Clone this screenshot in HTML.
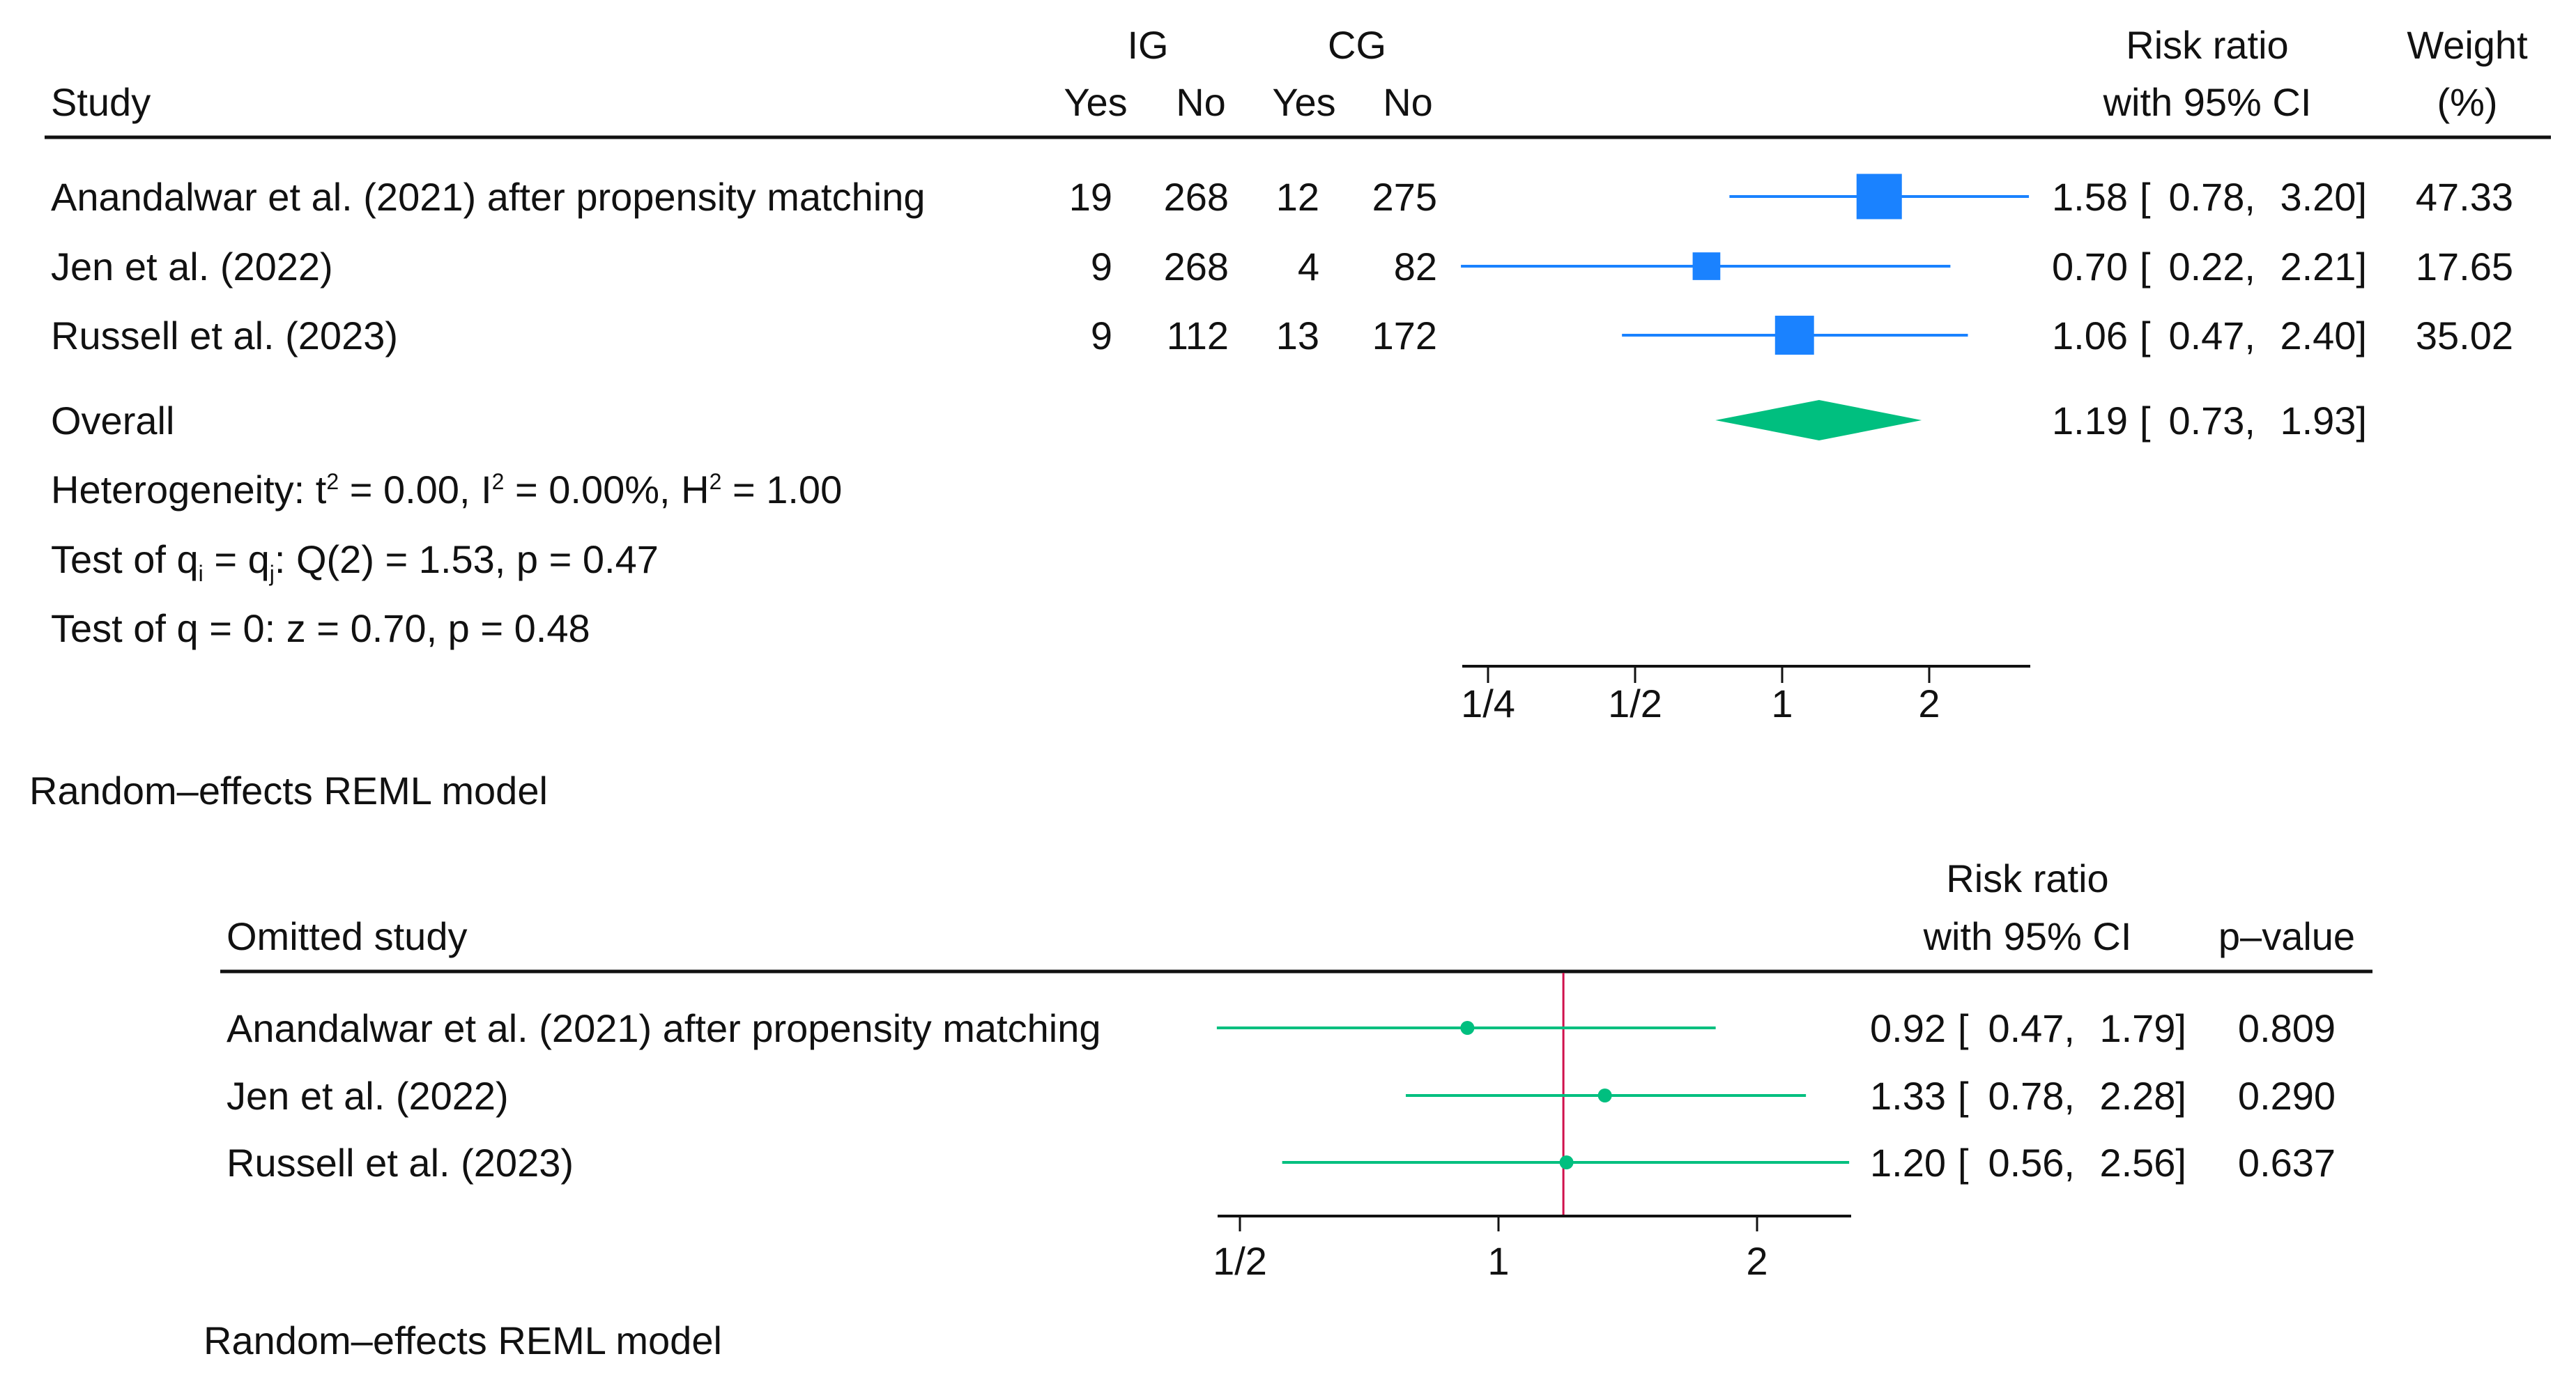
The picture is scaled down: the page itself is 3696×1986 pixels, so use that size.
<!DOCTYPE html>
<html><head><meta charset="utf-8"><style>
html,body{margin:0;padding:0;background:#fff;}
svg{display:block;}
text{font-family:"Liberation Sans",sans-serif;font-size:56px;fill:#111;}
</style></head><body>
<svg id="chart" xmlns="http://www.w3.org/2000/svg" width="3696" height="1986" viewBox="0 0 3696 1986"></svg>
<script>
// ---- data: top forest plot ----
const studies = ["Anandalwar et al. (2021) after propensity matching","Jen et al. (2022)","Russell et al. (2023)"];
const igYes = [19, 9, 9];
const igNo = [268, 268, 112];
const cgYes = [12, 4, 13];
const cgNo = [275, 82, 172];
const rr = [1.58, 0.70, 1.06];
const rrLo = [0.78, 0.22, 0.47];
const rrHi = [3.20, 2.21, 2.40];
const weights = [47.33, 17.65, 35.02];
const overall = [1.19, 0.73, 1.93];
const topTicks = [0.25, 0.5, 1, 2];
const topTickLabels = ["1/4", "1/2", "1", "2"];
// ---- data: leave-one-out plot ----
const omitted = ["Anandalwar et al. (2021) after propensity matching","Jen et al. (2022)","Russell et al. (2023)"];
const looRR = [0.92, 1.33, 1.20];
const looLo = [0.47, 0.78, 0.56];
const looHi = [1.79, 2.28, 2.56];
const looP = ["0.809", "0.290", "0.637"];
const looRef = [1.19];
const botTicks = [0.5, 1, 2];
const botTickLabels = ["1/2", "1", "2"];

const NS = "http://www.w3.org/2000/svg";
const svg = document.getElementById("chart");
function mk(tag, attrs, txt){
  const e = document.createElementNS(NS, tag);
  for (const k in attrs) e.setAttribute(k, attrs[k]);
  if (txt !== undefined) e.textContent = txt;
  svg.appendChild(e);
  return e;
}
function txt(x, y, s, anchor){
  return mk("text", {x:x, y:y, "text-anchor":anchor||"start"}, s);
}
function fmt(v){ return v.toFixed(2); }
const xTop = v => 2557 + 211*Math.log2(v);
const xBot = v => 2150 + 371*Math.log2(v);
const BL = 20;
const BLUE = "#1a82ff", GREEN = "#00bf7f";

let e;
e = txt(1647, 64+BL, "IG", "middle");


e = txt(1947, 64+BL, "CG", "middle");


e = txt(73, 146+BL, "Study");


[["Yes",1572],["No",1723],["Yes",1871],["No",2020]].forEach(p=>{
  const t = txt(p[1], 146+BL, p[0], "middle");
  
  
});
e = txt(3167, 64+BL, "Risk ratio", "middle");


e = txt(3167, 146+BL, "with 95% CI", "middle");


e = txt(3540, 64+BL, "Weight", "middle");


e = txt(3540, 146+BL, "(%)", "middle");


e = mk("line", {x1:64, x2:3660, y1:197, y2:197, stroke:"#111", "stroke-width":5});



const rowY = [282, 382, 481];
studies.forEach((s, i) => {
  const y = rowY[i];
  let t = txt(73, y+BL, s);
  
  
  [[igYes,1596],[igNo,1763],[cgYes,1893],[cgNo,2062]].forEach(c=>{
    const n = txt(c[1], y+BL, String(c[0][i]), "end");
    
    
  });
  const ln = mk("line", {x1:xTop(rrLo[i]), x2:xTop(rrHi[i]), y1:y, y2:y, stroke:BLUE, "stroke-width":4});
  
  
  const side = 9.45*Math.sqrt(weights[i]);
  const sq = mk("rect", {x:xTop(rr[i])-side/2, y:y-side/2, width:side, height:side, fill:BLUE});
  
  
  let a = txt(3053, y+BL, fmt(rr[i]), "end");
  
  
  a = txt(3070, y+BL, "[");
  
  
  a = txt(3236, y+BL, fmt(rrLo[i])+",", "end");
  
  
  a = txt(3396, y+BL, fmt(rrHi[i])+"]", "end");
  
  
  a = txt(3606, y+BL, fmt(weights[i]), "end");
  
  
});

const oy = 603;
e = txt(73, oy+BL, "Overall");


e = mk("polygon", {points:`${xTop(overall[1])},${oy} ${xTop(overall[0])},${oy-29} ${xTop(overall[2])},${oy} ${xTop(overall[0])},${oy+29}`, fill:GREEN});


e = txt(3053, oy+BL, fmt(overall[0]), "end");


e = txt(3070, oy+BL, "[");


e = txt(3236, oy+BL, fmt(overall[1])+",", "end");


e = txt(3396, oy+BL, fmt(overall[2])+"]", "end");



function richText(y, parts, name){
  const t = mk("text", {x:73, y:y+BL});
  
  
  parts.forEach(p=>{
    const ts = document.createElementNS(NS, "tspan");
    ts.textContent = p[0];
    if (p[1]==="sup"){ ts.setAttribute("baseline-shift","20"); ts.setAttribute("font-size","32"); }
    if (p[1]==="sub"){ ts.setAttribute("baseline-shift","-12"); ts.setAttribute("font-size","32"); }
    t.appendChild(ts);
  });
}
richText(702, [["Heterogeneity: t"],["2","sup"],[" = 0.00, I"],["2","sup"],[" = 0.00%, H"],["2","sup"],[" = 1.00"]], "heterogeneity-stats");
richText(802, [["Test of q"],["i","sub"],[" = q"],["j","sub"],[": Q(2) = 1.53, p = 0.47"]], "homogeneity-test");
richText(901, [["Test of q = 0: z = 0.70, p = 0.48"]], "overall-effect-test");

e = mk("line", {x1:2098, x2:2913, y1:956, y2:956, stroke:"#111", "stroke-width":4});


topTicks.forEach((v,i)=>{
  const tk = mk("line", {x1:xTop(v), x2:xTop(v), y1:956, y2:980, stroke:"#111", "stroke-width":3});
  
  
  const lb = txt(xTop(v), 1029, topTickLabels[i], "middle");
  
  
});
e = txt(42, 1134+BL, "Random\u2013effects REML model");



e = txt(325, 1343+BL, "Omitted study");


e = txt(2909, 1260+BL, "Risk ratio", "middle");


e = txt(2909, 1343+BL, "with 95% CI", "middle");


e = txt(3281, 1343+BL, "p\u2013value", "middle");


e = mk("line", {x1:316, x2:3404, y1:1394, y2:1394, stroke:"#111", "stroke-width":5});



e = mk("line", {x1:xBot(looRef[0]), x2:xBot(looRef[0]), y1:1396, y2:1745, stroke:"#d0104c", "stroke-width":3});



const looY = [1475, 1572, 1668];
omitted.forEach((s,i)=>{
  const y = looY[i];
  let t = txt(325, y+BL, s);
  
  
  const ln = mk("line", {x1:xBot(looLo[i]), x2:xBot(looHi[i]), y1:y, y2:y, stroke:GREEN, "stroke-width":4});
  
  
  const c = mk("circle", {cx:xBot(looRR[i]), cy:y, r:10, fill:GREEN});
  
  
  let a = txt(2792, y+BL, fmt(looRR[i]), "end");
  
  
  a = txt(2809, y+BL, "[");
  
  
  a = txt(2977, y+BL, fmt(looLo[i])+",", "end");
  
  
  a = txt(3137, y+BL, fmt(looHi[i])+"]", "end");
  
  
  a = txt(3281, y+BL, looP[i], "middle");
  
  
});

e = mk("line", {x1:1747, x2:2656, y1:1745, y2:1745, stroke:"#111", "stroke-width":4});


botTicks.forEach((v,i)=>{
  const tk = mk("line", {x1:xBot(v), x2:xBot(v), y1:1745, y2:1767, stroke:"#111", "stroke-width":3});
  
  
  const lb = txt(xBot(v), 1829, botTickLabels[i], "middle");
  
  
});
e = txt(292, 1923+BL, "Random\u2013effects REML model");


</script>
</body></html>
